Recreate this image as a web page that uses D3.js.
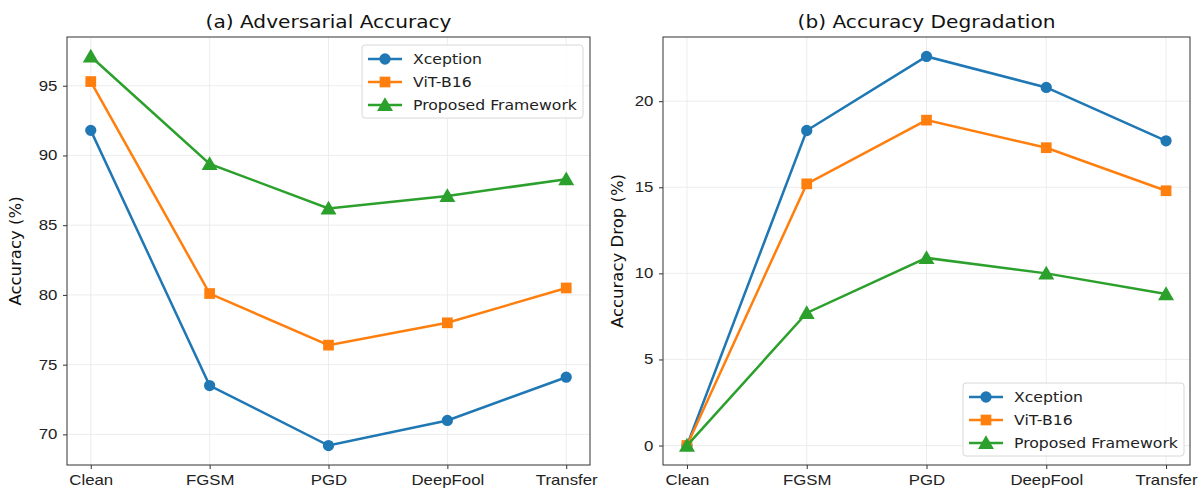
<!DOCTYPE html>
<html>
<head>
<meta charset="utf-8">
<script src="https://cdn.jsdelivr.net/npm/d3@7"></script>
<style>
  body { margin: 0; background: #fff; }
  svg { font-family: "DejaVu Sans", sans-serif; }
  .grid line { stroke: #e8e8e8; stroke-width: 0.8; }
  .axis path, .axis line { stroke: #333; }
  .axis text { fill: #222; font-size: 14px; }
</style>
</head>
<body>
<div id="chart"></div>
<script>
var attacks = ["Clean", "FGSM", "PGD", "DeepFool", "Transfer"];
var seriesNames = ["Xception", "ViT-B16", "Proposed Framework"];

var xceptionAcc = [91.8, 73.5, 69.2, 71.0, 74.1];
var vitAcc = [95.3, 80.1, 76.4, 78.0, 80.5];
var proposedAcc = [97.1, 89.4, 86.2, 87.1, 88.3];

var xceptionDrop = [0, 18.3, 22.6, 20.8, 17.7];
var vitDrop = [0, 15.2, 18.9, 17.3, 14.8];
var proposedDrop = [0, 7.7, 10.9, 10.0, 8.8];

var accTicks = [70, 75, 80, 85, 90, 95];
var dropTicks = [0, 5, 10, 15, 20];

var colors = ["#1f77b4", "#ff7f0e", "#2ca02c"];
var shapes = [d3.symbolCircle, d3.symbolSquare, d3.symbolTriangle];
var sizes = [100, 115, 110];

// the reference picture is a bit wider than tall, text looks stretched sideways
var stretch = 1.2;

var svg = d3.select("#chart")
    .append("svg")
        .attr("width", 1203)
        .attr("height", 494);

function drawPanel(opts) {
    var width = opts.right - opts.left,
        height = 465 - 37;

    var g = svg.append("g")
        .attr("transform", "translate(" + opts.left + ",37)");

    // matplotlib style 5% margins on both axes
    var x = d3.scaleLinear().domain([-0.2, 4.2]).range([0, width]);
    var yMin = d3.min(opts.data, function(s){ return d3.min(s); });
    var yMax = d3.max(opts.data, function(s){ return d3.max(s); });
    var pad = (yMax - yMin) * 0.05;
    var y = d3.scaleLinear().domain([yMin - pad, yMax + pad]).range([height, 0]);

    // grid
    var grid = g.append("g").attr("class", "grid");
    grid.selectAll(".gx").data(d3.range(attacks.length)).enter()
        .append("line")
        .attr("x1", function(d){ return x(d); })
        .attr("x2", function(d){ return x(d); })
        .attr("y1", 0).attr("y2", height);
    grid.selectAll(".gy").data(opts.ticks).enter()
        .append("line")
        .attr("x1", 0).attr("x2", width)
        .attr("y1", function(d){ return y(d); })
        .attr("y2", function(d){ return y(d); });

    // axes
    var xAxisCall = d3.axisBottom(x)
        .tickValues(d3.range(attacks.length))
        .tickFormat(function(d){ return attacks[d]; })
        .tickSize(4).tickPadding(6);
    g.append("g")
        .attr("class", "x axis")
        .attr("transform", "translate(0," + height + ")")
        .call(xAxisCall);

    var yAxisCall = d3.axisLeft(y).tickValues(opts.ticks).tickSize(4).tickPadding(4);
    g.append("g")
        .attr("class", "y axis")
        .call(yAxisCall);

    g.selectAll(".axis path").remove();
    g.selectAll(".axis text").attr("transform", "scale(" + stretch + ",1)");

    g.append("rect")
        .attr("width", width)
        .attr("height", height)
        .attr("fill", "none")
        .attr("stroke", "#333")
        .attr("stroke-width", 1);

    // lines + markers
    var line = d3.line()
        .x(function(d, i){ return x(i); })
        .y(function(d){ return y(d); });

    opts.data.forEach(function(vals, s) {
        g.append("path")
            .datum(vals)
            .attr("d", line)
            .attr("fill", "none")
            .attr("stroke", colors[s])
            .attr("stroke-width", 2.5);

        g.selectAll(".m" + s)
            .data(vals)
            .enter()
            .append("path")
            .attr("transform", function(d, i){
                var dy = s == 2 ? 1.5 : 0;
                return "translate(" + x(i) + "," + (y(d) + dy) + ")";
            })
            .attr("d", d3.symbol().type(shapes[s]).size(sizes[s]))
            .attr("fill", colors[s]);
    });

    // title + label
    svg.append("text")
        .attr("transform", "translate(" + (opts.left + width / 2) + ",28) scale(" + (stretch - 0.05) + ",1)")
        .attr("text-anchor", "middle")
        .attr("font-size", "17.5px")
        .style("fill", "#111")
        .text(opts.title);

    svg.append("text")
        .attr("transform", "translate(" + opts.labelX + "," + (37 + height / 2) + ") rotate(-90)")
        .attr("text-anchor", "middle")
        .attr("font-size", "16.5px")
        .style("fill", "#111")
        .text(opts.ylabel);

    // legend
    var lg = g.append("g")
        .attr("transform", "translate(" + opts.legendX + "," + opts.legendY + ")");
    lg.append("rect")
        .attr("width", 221)
        .attr("height", 73)
        .attr("rx", 3)
        .attr("fill", "#fff")
        .attr("fill-opacity", 0.8)
        .attr("stroke", "#d8d8d8");
    seriesNames.forEach(function(name, s) {
        var ly = 14 + s * 23;
        lg.append("line")
            .attr("x1", 6).attr("x2", 40)
            .attr("y1", ly).attr("y2", ly)
            .attr("stroke", colors[s])
            .attr("stroke-width", 2.5);
        lg.append("path")
            .attr("transform", "translate(23," + (ly + (s == 2 ? 1.5 : 0)) + ")")
            .attr("d", d3.symbol().type(shapes[s]).size(sizes[s]))
            .attr("fill", colors[s]);
        lg.append("text")
            .attr("transform", "translate(51," + (ly + 5) + ") scale(" + (stretch - 0.08) + ",1)")
            .attr("font-size", "14px")
            .style("fill", "#222")
            .text(name);
    });
}

drawPanel({
    left: 67, right: 590,
    data: [xceptionAcc, vitAcc, proposedAcc],
    ticks: accTicks,
    title: "(a) Adversarial Accuracy",
    ylabel: "Accuracy (%)",
    labelX: 21,
    legendX: 295, legendY: 8
});

drawPanel({
    left: 663, right: 1190,
    data: [xceptionDrop, vitDrop, proposedDrop],
    ticks: dropTicks,
    title: "(b) Accuracy Degradation",
    ylabel: "Accuracy Drop (%)",
    labelX: 623,
    legendX: 300, legendY: 346
});
</script>
</body>
</html>
